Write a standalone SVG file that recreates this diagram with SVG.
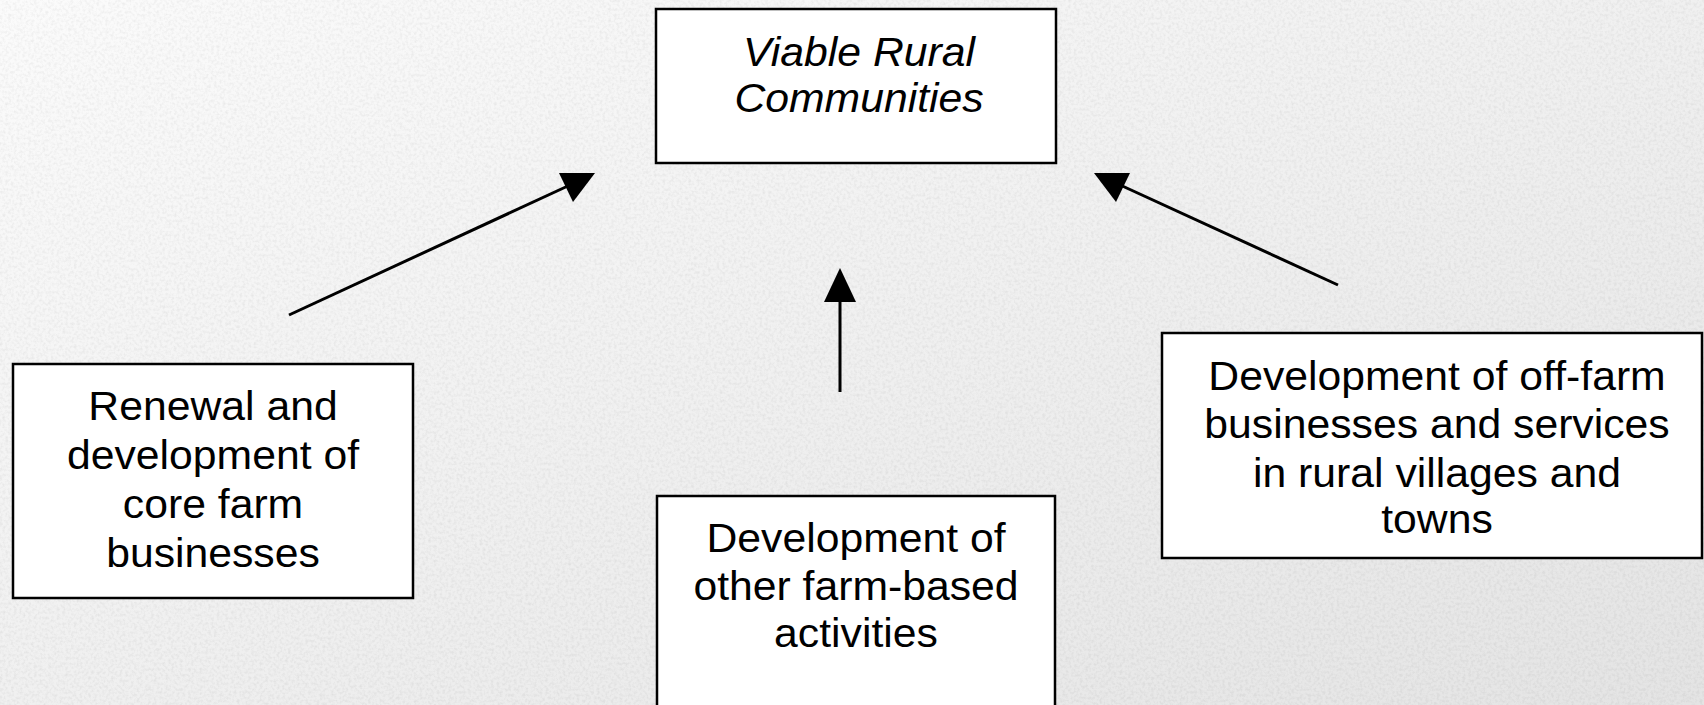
<svg xmlns="http://www.w3.org/2000/svg" width="1704" height="705" viewBox="0 0 1704 705">
  <defs>
    <linearGradient id="bg" x1="0" y1="0" x2="1" y2="1">
      <stop offset="0" stop-color="#fbfbfb"/>
      <stop offset="0.5" stop-color="#f0f0f0"/>
      <stop offset="1" stop-color="#e4e4e4"/>
    </linearGradient>
    <filter id="noise" x="0" y="0" width="100%" height="100%">
      <feTurbulence type="fractalNoise" baseFrequency="0.35" numOctaves="2" seed="3" result="t"/>
      <feColorMatrix in="t" type="matrix" values="0 0 0 0 0  0 0 0 0 0  0 0 0 0 0  0 0 0 -0.9 0.55"/>
    </filter>
    <style>
      .box { fill: #ffffff; stroke: #000000; stroke-width: 2.5; }
      .lbl { font-family: "Liberation Sans", Arial, sans-serif; font-size: 40px; fill: #000; text-anchor: middle; }
      .it { font-style: italic; }
      .conn { stroke: #000; stroke-width: 3; fill: none; }
      .head { fill: #000; }
    </style>
  </defs>
  <rect width="1704" height="705" fill="url(#bg)"/>
  <rect width="1704" height="705" filter="url(#noise)" opacity="0.12"/>

  <g id="connectors">
    <line class="conn" x1="289" y1="315" x2="570" y2="185"/>
    <polygon class="head" points="595,173 559,173 573,202"/>
    <line class="conn" x1="840" y1="392" x2="840" y2="300"/>
    <polygon class="head" points="840,268 824,302 856,302"/>
    <line class="conn" x1="1338" y1="285" x2="1118" y2="184"/>
    <polygon class="head" points="1094,173 1130,173 1116,202"/>
  </g>

  <g id="node-viable">
    <rect class="box" x="656" y="9" width="400" height="154"/>
    <g transform="translate(859,0) scale(1.068,1)">
      <text class="lbl it" x="0" y="66">Viable Rural</text>
      <text class="lbl it" x="0" y="112">Communities</text>
    </g>
  </g>

  <g id="node-core">
    <rect class="box" x="13" y="364" width="400" height="234"/>
    <g transform="translate(213,0) scale(1.068,1)">
      <text class="lbl" x="0" y="420">Renewal and</text>
      <text class="lbl" x="0" y="469">development of</text>
      <text class="lbl" x="0" y="518">core farm</text>
      <text class="lbl" x="0" y="567">businesses</text>
    </g>
  </g>

  <g id="node-other">
    <rect class="box" x="657" y="496" width="398" height="230"/>
    <g transform="translate(856,0) scale(1.068,1)">
      <text class="lbl" x="0" y="552">Development of</text>
      <text class="lbl" x="0" y="600">other farm-based</text>
      <text class="lbl" x="0" y="647">activities</text>
    </g>
  </g>

  <g id="node-offfarm">
    <rect class="box" x="1162" y="333" width="540" height="225"/>
    <g transform="translate(1437,0) scale(1.068,1)">
      <text class="lbl" x="0" y="390">Development of off-farm</text>
      <text class="lbl" x="0" y="438">businesses and services</text>
      <text class="lbl" x="0" y="487">in rural villages and</text>
      <text class="lbl" x="0" y="533">towns</text>
    </g>
  </g>
</svg>
